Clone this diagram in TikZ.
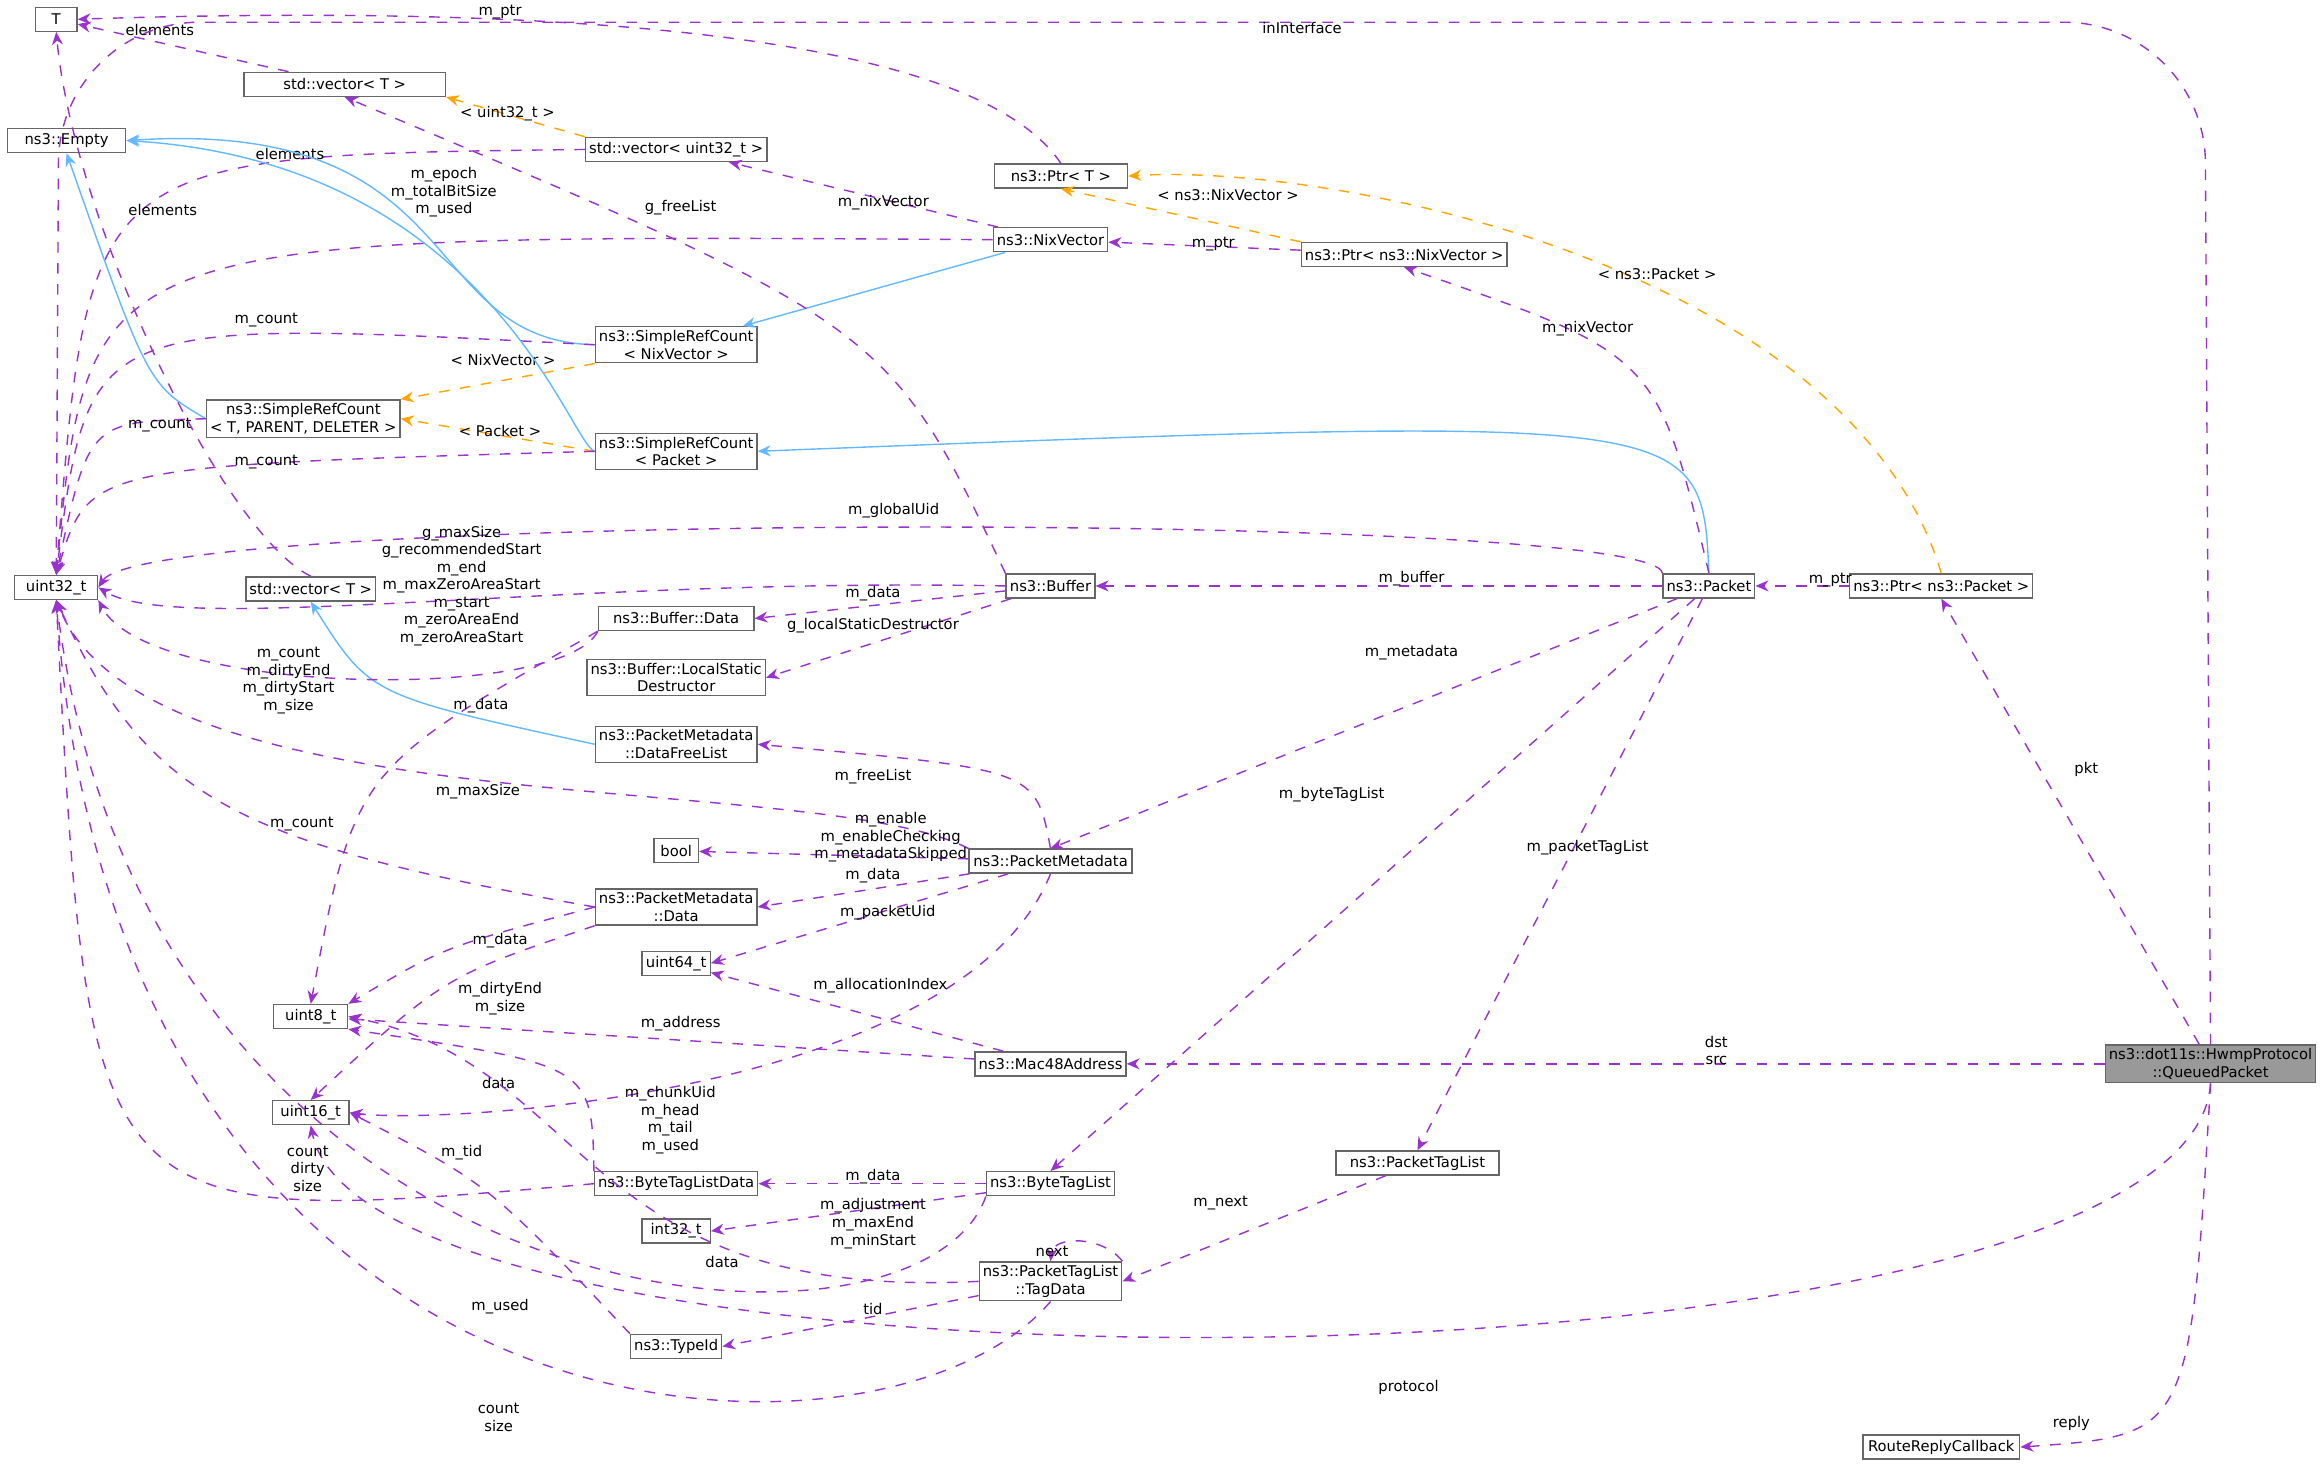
\documentclass[tikz,border=0pt]{standalone}
\usepackage{fontspec}
\setmainfont{DejaVu Sans}
\usetikzlibrary{arrows.meta,positioning}
\definecolor{memcol}{RGB}{154,50,205}
\definecolor{inhcol}{RGB}{99,184,255}
\definecolor{tplcol}{RGB}{255,165,0}
\definecolor{boxcol}{RGB}{102,102,102}
\tikzset{
  cls/.style={draw=boxcol, fill=white, font=\fontsize{4.2}{5}\selectfont, inner sep=1pt, minimum height=0.24cm, align=center},
  wd/.style={minimum width=#1*0.0148cm},
  mem/.style={draw=memcol, dashed, -{Stealth[length=1.3mm,width=1.1mm]}},
  inh/.style={draw=inhcol, -{Stealth[length=1.3mm,width=1.1mm]}},
  tpl/.style={draw=tplcol, dashed, -{Stealth[length=1.3mm,width=1.1mm]}},
  lbl/.style={font=\fontsize{4.2}{5}\selectfont, align=center, inner sep=0pt}
}
\begin{document}
\begin{tikzpicture}[x=0.0148cm, y=-0.0148cm]
\useasboundingbox (0,0) rectangle (1568,993);
% Classes
\node[cls, wd=28] (T) at (38,13) {T};
\node[cls, wd=80] (Empty) at (45,95) {ns3::Empty};
\node[cls, wd=136] (vecT) at (233,57) {std::vector< T >};
\node[cls, wd=115] (vecU) at (457,101) {std::vector< uint32\_t >};
\node[cls, wd=90] (ptrT) at (717,119) {ns3::Ptr< T >};
\node[cls, wd=66] (nix) at (710,162) {ns3::NixVector};
\node[cls, wd=134] (ptrNix) at (949,172) {ns3::Ptr< ns3::NixVector >};
\node[cls, wd=108] (srcNix) at (457,233) {ns3::SimpleRefCount\\< NixVector >};
\node[cls, wd=120] (srcT) at (205,283) {ns3::SimpleRefCount\\< T, PARENT, DELETER >};
\node[cls, wd=108] (srcPkt) at (457,305) {ns3::SimpleRefCount\\< Packet >};
\node[cls, wd=56] (u32) at (38,397) {uint32\_t};
\node[cls, wd=85] (vecTm) at (210,398) {std::vector< T >};
\node[cls, wd=105] (bufData) at (457,418) {ns3::Buffer::Data};
\node[cls, wd=60] (buf) at (710,396) {ns3::Buffer};
\node[cls, wd=60] (pkt) at (1155,396) {ns3::Packet};
\node[cls, wd=118] (ptrPkt) at (1312,396) {ns3::Ptr< ns3::Packet >};
\node[cls, wd=112] (lsd) at (457,458) {ns3::Buffer::LocalStatic\\Destructor};
\node[cls, wd=108] (dfl) at (457,503) {ns3::PacketMetadata\\::DataFreeList};
\node[cls, wd=30] (bool) at (457,575) {bool};
\node[cls, wd=110] (pm) at (710,582) {ns3::PacketMetadata};
\node[cls, wd=108] (pmData) at (457,613) {ns3::PacketMetadata\\::Data};
\node[cls, wd=46] (u64) at (457,651) {uint64\_t};
\node[cls, wd=50] (u8) at (210,687) {uint8\_t};
\node[cls, wd=100] (mac) at (710,719) {ns3::Mac48Address};
\node[cls, wd=138, fill=black!40] (qp) at (1494,719) {ns3::dot11s::HwmpProtocol\\::QueuedPacket};
\node[cls, wd=52] (u16) at (210,752) {uint16\_t};
\node[cls, wd=108] (btld) at (457,800) {ns3::ByteTagListData};
\node[cls, wd=82] (btl) at (710,800) {ns3::ByteTagList};
\node[cls, wd=110] (ptl) at (958,786) {ns3::PacketTagList};
\node[cls, wd=46] (i32) at (457,832) {int32\_t};
\node[cls, wd=96] (td) at (710,866) {ns3::PacketTagList\\::TagData};
\node[cls, wd=60] (tid) at (457,910) {ns3::TypeId};
\node[cls, wd=106] (rrc) at (1312,978) {RouteReplyCallback};
% Top part
\draw[mem] (vecT) -- (T); \node[lbl] at (108,20) {elements};
\draw[tpl] (vecU.north west) -- (vecT.south east); \node[lbl] at (343,77) {< uint32\_t >};
\draw[mem] (vecU.west) .. controls (60,105) .. (u32.north); \node[lbl] at (196,104) {elements};
\draw[mem] (ptrT.north) .. controls (650,10) and (300,5) .. (T.east); \node[lbl] at (338,8) {m\_ptr};
\draw[mem] (nix) -- (vecU); \node[lbl] at (597,137) {m\_nixVector};
\draw[mem] (nix.west) .. controls (60,158) .. (u32.north); \node[lbl] at (300,130) {m\_epoch\\m\_totalBitSize\\m\_used};
\draw[inh] (nix) -- (srcNix);
\draw[tpl] (ptrNix.north west) -- (ptrT.south); \node[lbl] at (830,132) {< ns3::NixVector >};
\draw[mem] (ptrNix) -- (nix); \node[lbl] at (820,165) {m\_ptr};
\draw[inh] (srcNix.west) .. controls (280,230) and (320,80) .. (Empty.east);
\draw[mem] (srcNix.west) .. controls (60,215) .. (u32.north); \node[lbl] at (180,216) {m\_count};
\draw[tpl] (srcNix.south west) -- (srcT.north east); \node[lbl] at (340,243) {< NixVector >};
\draw[inh] (srcT.west) .. controls (100,260) .. (Empty.south);
\draw[mem] (srcT.west) .. controls (60,285) .. (u32.north); \node[lbl] at (108,287) {m\_count};
\draw[tpl] (srcPkt.west) -- (srcT.east); \node[lbl] at (338,291) {< Packet >};
\draw[inh] (srcPkt.west) .. controls (385,300) and (330,110) .. (Empty.east);
\draw[mem] (srcPkt.west) .. controls (60,315) .. (u32.north); \node[lbl] at (180,312) {m\_count};
% Packet and friends
\draw[inh] (pkt.north) .. controls (1150,280) .. (srcPkt.east);
\draw[mem] (pkt.north) .. controls (1120,240) .. (ptrNix.south); \node[lbl] at (1073,222) {m\_nixVector};
\draw[mem] (pkt.north west) .. controls (1120,345) and (100,345) .. (u32.east); \node[lbl] at (604,345) {m\_globalUid};
\draw[mem] (pkt) -- (buf); \node[lbl] at (954,391) {m\_buffer};
\draw[mem] (pkt) -- (pm.north); \node[lbl] at (954,441) {m\_metadata};
\draw[mem] (pkt) -- (btl.north); \node[lbl] at (900,537) {m\_byteTagList};
\draw[mem] (pkt) -- (ptl.north); \node[lbl] at (1073,573) {m\_packetTagList};
\draw[mem] (ptrPkt) -- (pkt); \node[lbl] at (1237,392) {m\_ptr};
\draw[tpl] (ptrPkt.north) .. controls (1250,180) and (900,110) .. (ptrT.east); \node[lbl] at (1120,185) {< ns3::Packet >};
% QueuedPacket
\draw[mem] (qp) -- (ptrPkt.south); \node[lbl] at (1410,520) {pkt};
\draw[mem, rounded corners=40] (qp.north) -- (1490,15) -- (40,15) -- (u32.north); \node[lbl] at (880,19) {inInterface};
\draw[mem] (qp) -- (mac); \node[lbl] at (1160,710) {dst\\src};
\draw[mem] (qp.south) .. controls (1480,950) and (250,960) .. (u16.south); \node[lbl] at (952,938) {protocol};
\draw[mem] (qp.south) .. controls (1480,970) .. (rrc.east); \node[lbl] at (1400,962) {reply};
% Buffer
\draw[mem] (vecTm.north) .. controls (150,360) and (50,150) .. (T.south); \node[lbl] at (110,142) {elements};
\draw[inh] (dfl.west) .. controls (250,470) .. (vecTm.south);
\draw[mem] (buf.north west) .. controls (600,220) .. (vecT.south); \node[lbl] at (460,140) {g\_freeList};
\draw[mem] (buf.west) .. controls (380,390) and (120,430) .. (u32.east); \node[lbl] at (312,396) {g\_maxSize\\g\_recommendedStart\\m\_end\\m\_maxZeroAreaStart\\m\_start\\m\_zeroAreaEnd\\m\_zeroAreaStart};
\draw[mem] (buf) -- (bufData.east); \node[lbl] at (590,401) {m\_data};
\draw[mem] (buf) -- (lsd.east); \node[lbl] at (590,423) {g\_localStaticDestructor};
\draw[mem] (bufData.south west) .. controls (380,475) and (100,470) .. (u32.south east); \node[lbl] at (195,460) {m\_count\\m\_dirtyEnd\\m\_dirtyStart\\m\_size};
\draw[mem] (bufData.south west) .. controls (240,520) .. (u8.north); \node[lbl] at (325,477) {m\_data};
% PacketMetadata
\draw[mem] (pm.north) .. controls (700,520) .. (dfl.east); \node[lbl] at (590,525) {m\_freeList};
\draw[mem] (pm.north west) .. controls (550,520) and (100,560) .. (u32.south); \node[lbl] at (323,535) {m\_maxSize};
\draw[mem] (pm) -- (bool); \node[lbl] at (602,566) {m\_enable\\m\_enableChecking\\m\_metadataSkipped};
\draw[mem] (pm) -- (pmData.east); \node[lbl] at (590,592) {m\_data};
\draw[mem] (pm) -- (u64.east); \node[lbl] at (600,617) {m\_packetUid};
\draw[mem] (pm.south) .. controls (650,740) and (300,760) .. (u16.east); \node[lbl] at (453,757) {m\_chunkUid\\m\_head\\m\_tail\\m\_used};
\draw[mem] (pmData.west) .. controls (160,570) and (100,540) .. (u32.south); \node[lbl] at (204,557) {m\_count};
\draw[mem] (pmData.west) .. controls (300,640) .. (u8.north east); \node[lbl] at (338,636) {m\_data};
\draw[mem] (pmData.south west) .. controls (300,660) .. (u16.north); \node[lbl] at (338,675) {m\_dirtyEnd\\m\_size};
\draw[mem] (mac) -- (u64); \node[lbl] at (595,666) {m\_allocationIndex};
\draw[mem] (mac) -- (u8); \node[lbl] at (460,692) {m\_address};
% Tags
\draw[mem] (btld.north west) .. controls (400,720) .. (u8.south east); \node[lbl] at (337,732) {data};
\draw[mem] (btld.west) .. controls (60,830) .. (u32.south); \node[lbl] at (208,790) {count\\dirty\\size};
\draw[mem] (btl) -- (btld); \node[lbl] at (590,795) {m\_data};
\draw[mem] (btl) -- (i32.east); \node[lbl] at (590,827) {m\_adjustment\\m\_maxEnd\\m\_minStart};
\draw[mem] (btl.south west) .. controls (620,940) and (100,900) .. (u32.south); \node[lbl] at (338,883) {m\_used};
\draw[mem] (ptl) -- (td.east); \node[lbl] at (825,813) {m\_next};
\draw[mem] (td.north east) .. controls (745,835) and (712,835) .. (td.north); \node[lbl] at (711,846) {next};
\draw[mem] (td.west) .. controls (390,880) and (400,720) .. (u8.east); \node[lbl] at (488,853) {data};
\draw[mem] (td) -- (tid.east); \node[lbl] at (590,885) {tid};
\draw[mem] (td.south) .. controls (600,1010) and (80,1000) .. (u32.south); \node[lbl] at (337,958) {count\\size};
\draw[mem] (tid.north west) .. controls (330,800) .. (u16.east); \node[lbl] at (312,779) {m\_tid};
\end{tikzpicture}
\end{document}
